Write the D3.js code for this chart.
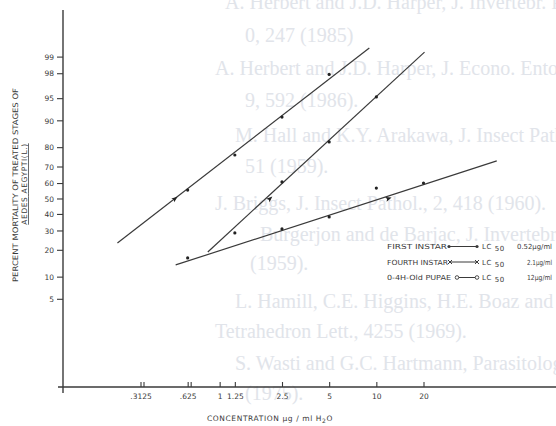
<!DOCTYPE html>
<html lang="en">
<head>
<meta charset="UTF-8">
<title>Percent mortality of treated stages of Aedes aegypti</title>
<script src="https://d3js.org/d3.v7.min.js"></script>
<style>
  body { margin: 0; background: #fff; }
  svg { display: block; }
  .lab { font-family: "DejaVu Sans", sans-serif; fill: #3a3a3a; }
  .bg { font-family: "Liberation Serif", serif; fill: #e1e4ea; font-size: 20px; }
</style>
</head>
<body>
<script>
// ---- data ----
const percentTicks = [5, 10, 20, 30, 40, 50, 60, 70, 80, 90, 95, 98, 99];
const concTicks = [0.3125, 0.625, 1, 1.25, 2.5, 5, 10, 20];
const concTickLabels = [".3125", ".625", "1", "1.25", "2.5", "5", "10", "20"];

const seriesNames = ["FIRST INSTAR", "FOURTH INSTAR", "0-4H-Old PUPAE"];
const lc50Values = [0.52, 2.1, 12];
const lc50Labels = ["0.52µg/ml", "2.1µg/ml", "12µg/ml"];

// observed points (concentration µg/ml, % mortality)
const firstConc = [0.625, 1.25, 2.5, 5];
const firstMort = [55.5, 76.2, 90.9, 97.9];
const fourthConc = [1.25, 2.5, 5, 10];
const fourthMort = [28.6, 60.7, 82.3, 95.2];
const pupaeConc = [0.625, 2.5, 5, 10, 20];
const pupaeMort = [16.5, 30.9, 38.1, 56.8, 60.0];

// fitted probit lines, drawn end points
const firstFitConc = [0.2226, 9.02];
const firstFitMort = [23.3, 99.32];
const fourthFitConc = [0.84, 20.3];
const fourthFitMort = [19.0, 99.18];
const pupaeFitConc = [0.524, 58.7];
const pupaeFitMort = [13.8, 73.1];

// faint show-through text from the other side of the page
const bgLines = [
  "A. Herbert and J.D. Harper, J. Invertebr. Pathol",
  "0, 247 (1985)",
  "A. Herbert and J.D. Harper, J. Econo. Entomol",
  "9, 592 (1986).",
  "M. Hall and K.Y. Arakawa, J. Insect Pathol",
  "51 (1959).",
  "J. Briggs, J. Insect Pathol., 2, 418 (1960).",
  "Burgerjon and de Barjac, J. Invertebr. Pathol",
  "(1959).",
  "L. Hamill, C.E. Higgins, H.E. Boaz and M. Gorman",
  "Tetrahedron Lett., 4255 (1969).",
  "S. Wasti and G.C. Hartmann, Parasitology, 70, 34",
  "(1975)."
];
const bgX = [225, 245, 215, 245, 235, 245, 215, 260, 250, 235, 215, 235, 245];
const bgY = [9, 42, 75, 107, 142, 173, 210, 241, 270, 308, 338, 370, 400];

// ---- layout ----
const W = 556, H = 426;
const axisX = 63, axisY = 387;
const ink = "#3a3a3a";

const svg = d3.select("body").append("svg")
    .attr("width", W).attr("height", H);

// show-through text
svg.append("g").selectAll("text")
  .data(bgLines)
  .join("text")
    .attr("class", "bg")
    .attr("x", (d, i) => bgX[i])
    .attr("y", (d, i) => bgY[i])
    .text(d => d);

// inverse normal cdf (probit transform for the y axis)
function probit(p) {
  const a = [-3.969683028665376e+01, 2.209460984245205e+02, -2.759285104469687e+02,
             1.383577518672690e+02, -3.066479806614716e+01, 2.506628277459239e+00];
  const b = [-5.447609879822406e+01, 1.615858368580409e+02, -1.556989798598866e+02,
             6.680131188771972e+01, -1.328068155288572e+01];
  const c = [-7.784894002430293e-03, -3.223964580411365e-01, -2.400758277161838e+00,
             -2.549732539343734e+00, 4.374664141464968e+00, 2.938163982698783e+00];
  const dd = [7.784695709041462e-03, 3.224671290700398e-01, 2.445134137142996e+00,
              3.754408661907416e+00];
  const pl = 0.02425;
  let q, r;
  if (p < pl) {
    q = Math.sqrt(-2 * Math.log(p));
    return (((((c[0]*q+c[1])*q+c[2])*q+c[3])*q+c[4])*q+c[5]) / ((((dd[0]*q+dd[1])*q+dd[2])*q+dd[3])*q+1);
  } else if (p <= 1 - pl) {
    q = p - 0.5; r = q * q;
    return (((((a[0]*r+a[1])*r+a[2])*r+a[3])*r+a[4])*r+a[5])*q / (((((b[0]*r+b[1])*r+b[2])*r+b[3])*r+b[4])*r+1);
  } else {
    q = Math.sqrt(-2 * Math.log(1 - p));
    return -(((((c[0]*q+c[1])*q+c[2])*q+c[3])*q+c[4])*q+c[5]) / ((((dd[0]*q+dd[1])*q+dd[2])*q+dd[3])*q+1);
  }
}

// scales
const x = d3.scaleLog().base(2)
    .domain([0.3125, 20])
    .range([140.5, 423.5]);

const zScale = d3.scaleLinear()
    .domain([probit(0.05), probit(0.99)])
    .range([298.8, 56.6]);
const y = p => zScale(probit(p / 100));

// y axis
const yAxis = svg.append("g")
    .attr("transform", `translate(${axisX},0)`)
    .call(d3.axisLeft(zScale)
        .tickValues(percentTicks.map(p => probit(p / 100)))
        .tickFormat((d, i) => percentTicks[i])
        .tickSize(6).tickPadding(3));
yAxis.select(".domain").remove();
yAxis.selectAll("line").attr("stroke", ink).attr("stroke-width", 1.1);
yAxis.selectAll("text").attr("class", "lab").style("font-size", "7.5px")
    .attr("fill", ink).attr("dy", "0.36em");
svg.append("line")
    .attr("x1", axisX).attr("x2", axisX).attr("y1", 10).attr("y2", 393)
    .attr("stroke", ink).attr("stroke-width", 1.4);

// x axis
const xAxis = svg.append("g")
    .attr("transform", `translate(0,${axisY})`)
    .call(d3.axisBottom(x)
        .tickValues(concTicks)
        .tickFormat((d, i) => concTickLabels[i])
        .tickSize(-5).tickPadding(7));
xAxis.select(".domain").remove();
xAxis.selectAll("line").attr("stroke", ink).attr("stroke-width", 1.1);
xAxis.selectAll("text").attr("class", "lab").style("font-size", "7.5px").attr("fill", ink);
// doubled tick marks on the two lowest dilutions
xAxis.selectAll(".tick").filter(d => d < 1).append("line")
    .attr("x1", 3).attr("x2", 3).attr("y1", 0).attr("y2", -5)
    .attr("stroke", ink).attr("stroke-width", 1.1);
svg.append("line")
    .attr("x1", 58).attr("x2", W).attr("y1", axisY).attr("y2", axisY)
    .attr("stroke", ink).attr("stroke-width", 1.4);

// axis titles
svg.append("text").attr("class", "lab")
    .attr("transform", "translate(18,185) rotate(-90)")
    .attr("text-anchor", "middle")
    .attr("textLength", 194).attr("lengthAdjust", "spacingAndGlyphs")
    .style("font-size", "7.5px")
    .text("PERCENT MORTALITY OF TREATED STAGES OF");
const t2 = svg.append("text").attr("class", "lab")
    .attr("transform", "translate(27,184) rotate(-90)")
    .attr("text-anchor", "middle")
    .style("font-size", "7.5px").style("letter-spacing", "0.6px")
    .style("text-decoration", "underline");
t2.append("tspan").text("AEDES");
t2.append("tspan").text(" ").style("text-decoration", "none");
t2.append("tspan").text("AEGYPTI(L.)");

const xt = svg.append("text").attr("class", "lab")
    .attr("x", 270).attr("y", 421)
    .attr("text-anchor", "middle")
    .style("font-size", "7.5px").style("letter-spacing", "0.6px");
xt.append("tspan").text("CONCENTRATION  µg / ml  H");
xt.append("tspan").attr("dy", 1.5).style("font-size", "6px").text("2");
xt.append("tspan").attr("dy", -1.5).text("O");

// fitted lines, points and LC50 arrows
const series = [
  { conc: firstConc, mort: firstMort, fc: firstFitConc, fm: firstFitMort, lc: lc50Values[0] },
  { conc: fourthConc, mort: fourthMort, fc: fourthFitConc, fm: fourthFitMort, lc: lc50Values[1] },
  { conc: pupaeConc, mort: pupaeMort, fc: pupaeFitConc, fm: pupaeFitMort, lc: lc50Values[2] }
];

const line = d3.line().x(d => x(d[0])).y(d => y(d[1]));

series.forEach(s => {
  const pts = d3.zip(s.fc, s.fm);
  svg.append("path")
      .datum(pts)
      .attr("d", line)
      .attr("fill", "none")
      .attr("stroke", ink)
      .attr("stroke-width", 1.2);

  svg.append("g").selectAll("circle")
    .data(d3.zip(s.conc, s.mort))
    .join("circle")
      .attr("cx", d => x(d[0]))
      .attr("cy", d => y(d[1]))
      .attr("r", 1.6)
      .attr("fill", "#222");

  // arrow head at LC50 on the fitted line
  const ang = Math.atan2(y(s.fm[1]) - y(s.fm[0]), x(s.fc[1]) - x(s.fc[0])) * 180 / Math.PI;
  svg.append("path")
      .attr("d", "M3,0 L-3,-2.4 L-1.8,0 L-3,2.4 Z")
      .attr("transform", `translate(${x(s.lc)},${y(50)}) rotate(${ang})`)
      .attr("fill", "#222");
});

// legend
const legend = svg.append("g");
const rowY = [249, 264.5, 280];
const nameLen = [60, 61, 64];
const keyStart = [449, 450, 457];
seriesNames.forEach((name, i) => {
  const g = legend.append("g").attr("transform", `translate(0,${rowY[i]})`);
  g.append("text").attr("class", "lab").attr("x", 387)
      .attr("textLength", nameLen[i]).attr("lengthAdjust", "spacingAndGlyphs")
      .style("font-size", "7px")
      .text(name);
  g.append("line").attr("x1", keyStart[i]).attr("x2", 477).attr("y1", -2.5).attr("y2", -2.5)
      .attr("stroke", ink).attr("stroke-width", 1);
  [keyStart[i], 477].forEach(cx => {
    if (i === 0) {
      g.append("circle").attr("cx", cx).attr("cy", -2.5).attr("r", 1.6).attr("fill", ink);
    } else if (i === 1) {
      g.append("path").attr("d", `M${cx-2},-4.5 L${cx+2},-0.5 M${cx-2},-0.5 L${cx+2},-4.5`)
          .attr("stroke", ink).attr("stroke-width", 1);
    } else {
      g.append("circle").attr("cx", cx).attr("cy", -2.5).attr("r", 1.8)
          .attr("fill", "#fff").attr("stroke", ink).attr("stroke-width", 0.9);
    }
  });
  const lt = g.append("text").attr("class", "lab").attr("x", 482)
      .style("font-size", "7px").style("letter-spacing", "0.5px");
  lt.append("tspan").text("LC");
  lt.append("tspan").attr("dx", 3).attr("dy", 2).text("50");
  g.append("text").attr("class", "lab")
      .attr("x", i === 0 ? 517 : 527)
      .attr("textLength", i === 0 ? 35 : 25).attr("lengthAdjust", "spacingAndGlyphs")
      .style("font-size", "7px")
      .text(lc50Labels[i]);
});
</script>
</body>
</html>
